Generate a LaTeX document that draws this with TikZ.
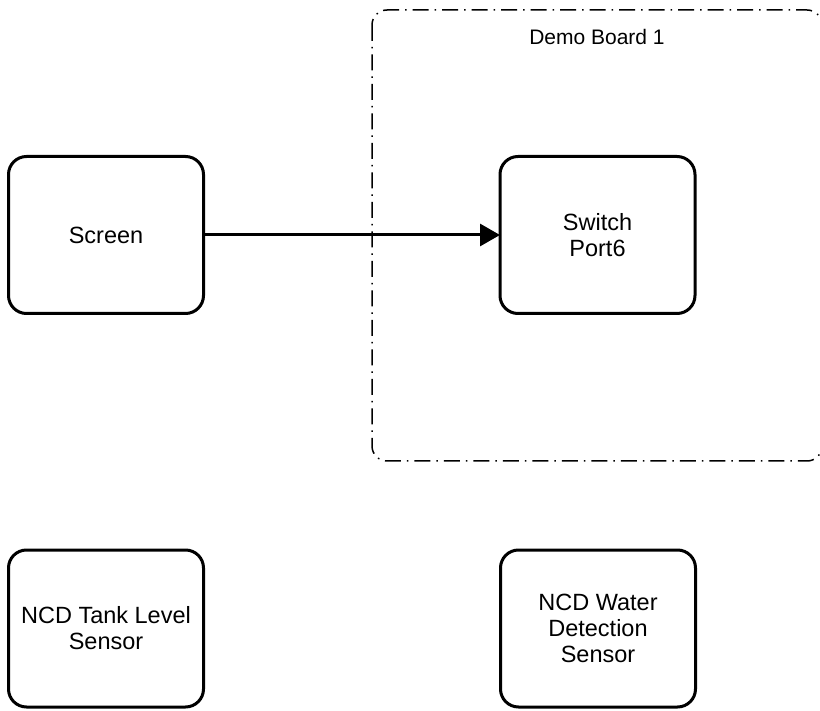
\documentclass[tikz,border=0pt]{standalone}
\usepackage{fontspec}
\setmainfont{Liberation Sans}
\usetikzlibrary{arrows.meta}

\begin{document}
\begin{tikzpicture}[x=1pt, y=-1pt,
  unitbox/.style={draw=black, line width=3pt, rounded corners=18pt,
    minimum width=195pt, minimum height=157pt, outer sep=0pt,
    align=center, inner sep=0pt,
    font=\fontsize{23.5}{26}\selectfont},
  boardframe/.style={draw=black, line width=1.5pt, rounded corners=15pt,
    dash pattern=on 16pt off 6pt on 1.5pt off 6pt},
  link/.style={line width=3pt, -{Triangle[length=20pt, width=22pt]}}
]
  \useasboundingbox (0,0) rectangle (820,711);
  \clip (0,0) rectangle (820,711);

  % Demo board outline (runs past the right edge)
  \draw[boardframe] (372,10) rectangle (822,461);
  \node[font=\fontsize{21}{25}\selectfont] (boardlabel) at (597,37) {Demo Board 1};

  % Units
  \node[unitbox] (screen) at (106,235) {Screen};
  \node[unitbox] (switch) at (597.5,235) {Switch\\Port6};
  \node[unitbox] (tank)   at (106,628.5) {NCD Tank Level\\Sensor};
  \node[unitbox] (water)  at (598,628.5) {NCD Water\\Detection\\Sensor};

  % Connection
  \draw[link] (screen.east) -- (switch.west);
\end{tikzpicture}
\end{document}
